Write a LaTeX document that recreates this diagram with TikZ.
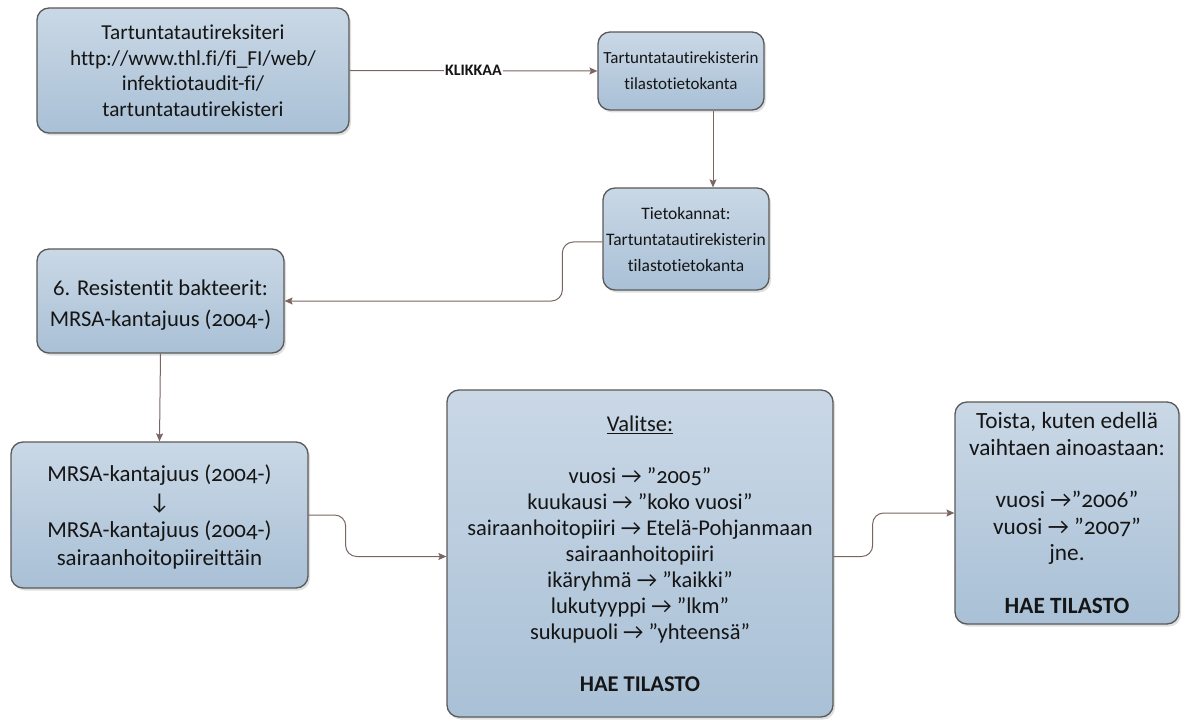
\documentclass[tikz,border=0pt]{standalone}
\usepackage{fontspec}
\setmainfont[Ligatures={TeX,NoCommon},Numbers=OldStyle]{Carlito}
\usetikzlibrary{arrows.meta,shadows}
\definecolor{boxtop}{HTML}{CAD8E6}
\definecolor{boxbot}{HTML}{A9C0D6}
\definecolor{boxline}{HTML}{5A5A5A}
\definecolor{conncol}{HTML}{7B6562}
\definecolor{txt}{HTML}{151515}
\tikzset{
  box/.style={draw=boxline, line width=1.3pt, rounded corners=12pt,
    top color=boxtop, bottom color=boxbot, align=center, text=txt,
    inner sep=0pt, font=\fontsize{22.5}{26}\selectfont,
    drop shadow={shadow xshift=2pt, shadow yshift=-2.5pt, opacity=0.25}},
  conn/.style={draw=conncol, line width=1pt,
    -{Stealth[length=8pt,width=7pt,inset=1.5pt]}},
  lbl/.style={fill=white, text=txt, font=\fontsize{16}{18}\selectfont\bfseries, inner sep=1pt}
}
\begin{document}
\begin{tikzpicture}[x=1pt,y=-1pt]
\useasboundingbox[fill=white] (0,0) rectangle (1189,722);
\node[box, minimum width=312pt, minimum height=125pt, font=\fontsize{21.3}{25.5}\selectfont] (B1) at (193,70.5)
  {Tartuntatautireksiteri\\http://www.thl.fi/fi\_FI/web/\\infektiotaudit-fi/\\tartuntatautirekisteri};
\node[box, minimum width=166pt, minimum height=78pt, font=\fontsize{17}{26}\selectfont] (B2) at (681,71)
  {Tartuntatautirekisterin\\tilastotietokanta};
\node[box, minimum width=166pt, minimum height=102pt, font=\fontsize{17.5}{26}\selectfont] (B3) at (686,239)
  {Tietokannat:\\Tartuntatautirekisterin\\tilastotietokanta};
\node[box, minimum width=247pt, minimum height=104pt, font=\fontsize{22.6}{31}\selectfont] (B4) at (160.5,301)
  {\rule{0pt}{24pt}6. Resistentit bakteerit:\\MRSA-kantajuus (2004-)};
\node[box, minimum width=297pt, minimum height=146pt, font=\fontsize{22.9}{28}\selectfont] (B5) at (159.5,515)
  {\rule{0pt}{20pt}MRSA-kantajuus (2004-)\\↓\\MRSA-kantajuus (2004-)\\sairaanhoitopiireittäin};
\node[box, minimum width=386pt, minimum height=327pt] (B6) at (640,553.5)
  {\underline{Valitse:}\\[26pt]vuosi → ”2005"\\kuukausi → ”koko vuosi”\\sairaanhoitopiiri → Etelä-Pohjanmaan\\sairaanhoitopiiri\\ikäryhmä → ”kaikki”\\lukutyyppi → ”lkm”\\sukupuoli → ”yhteensä”\\[26pt]\textbf{HAE TILASTO}};
\node[box, minimum width=224pt, minimum height=222pt, font=\fontsize{23.3}{26.3}\selectfont] (B7) at (1067,513)
  {\rule{0pt}{16pt}Toista, kuten edellä\\vaihtaen ainoastaan:\\[26.3pt]vuosi →”2006"\\vuosi → ”2007"\\jne.\\[26.3pt]\textbf{HAE TILASTO}};

\draw[conn] (B1.east) -- node[lbl] {KLIKKAA} (B2.west);
\draw[conn] ([xshift=32pt]B2.south) -- ([xshift=27pt]B3.north);
\draw[conn, rounded corners=11pt] ([yshift=-3pt]B3.west) -- ++(-40,0) |- (B4.east);
\draw[conn] (B4.south) -- (B5.north);
\draw[conn, rounded corners=11pt] (B5.east) -- ++(37,0) |- ([yshift=-3pt]B6.west);
\draw[conn, rounded corners=11pt] ([yshift=-3pt]B6.east) -- ++(39,0) |- (B7.west);
\end{tikzpicture}
\end{document}
